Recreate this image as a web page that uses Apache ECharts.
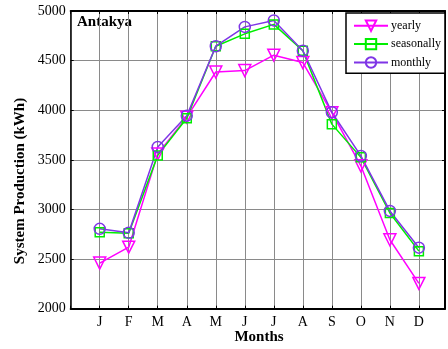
<!DOCTYPE html>
<html><head><meta charset="utf-8">
<script src="https://cdn.jsdelivr.net/npm/echarts@6/dist/echarts.min.js"></script>
<style>html,body{margin:0;padding:0;background:#fff}#c{width:448px;height:349px}</style>
</head><body><div id="c"></div>
<script>
const months = ['J','F','M','A','M','J','J','A','S','O','N','D'];
const yearly     = [2460, 2620, 3560, 3930, 4385, 4400, 4555, 4480, 3975, 3440, 2695, 2255];
const seasonally = [2770, 2760, 3545, 3920, 4645, 4770, 4865, 4600, 3860, 3525, 2965, 2580];
const monthly    = [2805, 2765, 3630, 3945, 4645, 4840, 4905, 4600, 3980, 3540, 2985, 2615];
const yTicks = [2000, 2500, 3000, 3500, 4000, 4500, 5000];

const font = '"Liberation Serif", "Times New Roman", serif';
function pts(arr){ return arr.map((v,i)=>[i+1, v]); }
function ser(name, data, color, symbol, size, rot){
  return {
    name, type:'line', data: pts(data), xAxisIndex:0, yAxisIndex:0,
    symbol, symbolSize:size, symbolRotate:rot||0, showAllSymbol:true,
    lineStyle:{color, width:1.5},
    itemStyle:{color:'none', borderColor:color, borderWidth:1.5, opacity:1},
    emphasis:{disabled:true}, animation:false
  };
}
const chart = echarts.init(document.getElementById('c'), null, {renderer:'canvas'});
const gridLine = {show:true, lineStyle:{color:'#8a8a8a', width:1}};
chart.setOption({
  animation:false,
  backgroundColor:'#fff',
  grid:{left:70.7, top:11, right:2, bottom:40.3, containLabel:false},
  xAxis:[
    {type:'value', min:0, max:12.9, interval:1,
     axisLine:{show:true, onZero:false, lineStyle:{color:'#000', width:2}},
     axisTick:{show:true, inside:true, length:3, lineStyle:{color:'#000'}},
     axisLabel:{fontFamily:font, fontSize:14, color:'#000', margin:7,
       formatter:v=> (Number.isInteger(v) && v>=1 && v<=12) ? months[v-1] : ''},
     splitLine:gridLine},
    {type:'value', min:0, max:12.9, interval:1, position:'top',
     axisLine:{show:true, onZero:false, lineStyle:{color:'#000', width:2}},
     axisTick:{show:true, inside:true, length:3, lineStyle:{color:'#000'}},
     axisLabel:{show:false}, splitLine:{show:false}}
  ],
  yAxis:[
    {type:'value', min:yTicks[0], max:yTicks[yTicks.length-1], interval:500,
     axisLine:{show:true, onZero:false, lineStyle:{color:'#000', width:1.5}},
     axisTick:{show:true, inside:true, length:3, lineStyle:{color:'#000'}},
     axisLabel:{fontFamily:font, fontSize:14, color:'#000', margin:5, formatter:v=>String(v)},
     splitLine:gridLine},
    {type:'value', min:yTicks[0], max:yTicks[yTicks.length-1], interval:500, position:'right',
     axisLine:{show:true, onZero:false, lineStyle:{color:'#000', width:2}},
     axisTick:{show:true, inside:true, length:3, lineStyle:{color:'#000'}},
     axisLabel:{show:false}, splitLine:{show:false}}
  ],
  legend:{
    orient:'vertical', left:346, top:13,
    padding:[5,4,3,7], itemGap:3, itemWidth:34, itemHeight:13,
    backgroundColor:'#fff', borderColor:'#000', borderWidth:1.5,
    textStyle:{fontFamily:font, fontSize:12, color:'#000', padding:[0,0,0,-2], lineHeight:15},
    data:['yearly','seasonally','monthly']
  },
  series:[
    ser('yearly', yearly, '#ff00ff', 'triangle', 12, 180),
    ser('seasonally', seasonally, '#00ee00', 'rect', 9),
    ser('monthly', monthly, '#7f35e6', 'circle', 11)
  ],
  graphic:[
    {type:'text', left:77, top:15, style:{text:'Antakya', font:'bold 15px '+font, fill:'#000'}},
    {type:'text', x:20, y:181, rotation:Math.PI/2,
     style:{text:'System Production (kWh)', font:'bold 15px '+font, fill:'#000', align:'center', verticalAlign:'middle'}},
    {type:'text', x:259, y:337, style:{text:'Months', font:'bold 15px '+font, fill:'#000', align:'center', verticalAlign:'middle'}}
  ]
});
</script></body></html>
